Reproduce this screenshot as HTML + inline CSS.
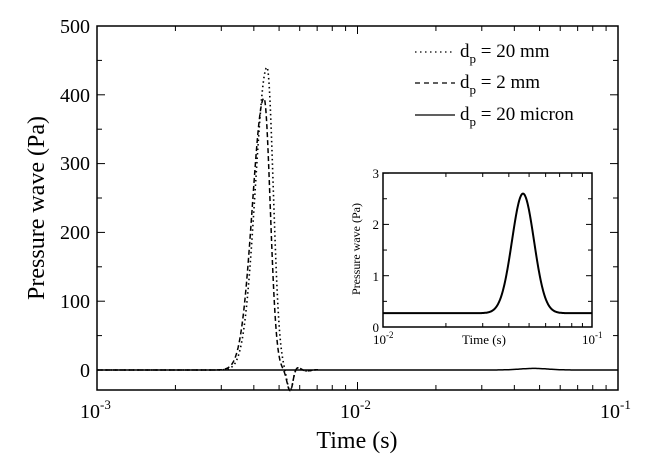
<!DOCTYPE html>
<html><head><meta charset="utf-8"><style>
html,body{margin:0;padding:0;background:#fff;}
svg{display:block;font-family:"Liberation Serif",serif;}
</style></head><body>
<svg id="s" width="648" height="470" viewBox="0 0 648 470">
<g fill="none" stroke="#000" stroke-width="1.5">
<rect x="97" y="26" width="521" height="364"/>
<rect x="383" y="173" width="209" height="154"/>
</g>
<g id="ticks" stroke="#000" stroke-width="1"></g>
<g id="curves" fill="none" stroke="#000"></g>
<g font-size="20" text-anchor="end">
<text x="90" y="33">500</text><text x="90" y="102">400</text><text x="90" y="170">300</text>
<text x="90" y="239">200</text><text x="90" y="308">100</text><text x="90" y="377">0</text>
</g>
<g font-size="20">
<text x="80" y="418">10<tspan font-size="13" dy="-9">-3</tspan></text>
<text x="340" y="418">10<tspan font-size="13" dy="-9">-2</tspan></text>
<text x="600" y="418">10<tspan font-size="13" dy="-9">-1</tspan></text>
</g>
<text x="357" y="448" font-size="24" text-anchor="middle">Time (s)</text>
<text transform="translate(44,208) rotate(-90)" font-size="24" text-anchor="middle">Pressure wave (Pa)</text>
<g font-size="13" text-anchor="end">
<text x="379" y="178">3</text><text x="379" y="229">2</text><text x="379" y="281">1</text><text x="379" y="332">0</text>
</g>
<g font-size="13">
<text x="373" y="344">10<tspan font-size="9" dy="-6">-2</tspan></text>
<text x="582" y="344">10<tspan font-size="9" dy="-6">-1</tspan></text>
<text x="462" y="344">Time (s)</text>
</g>
<text transform="translate(360,249) rotate(-90)" font-size="12" text-anchor="middle">Pressure wave (Pa)</text>
<g stroke="#000" stroke-width="1.3">
<line x1="415" y1="52" x2="455" y2="52" stroke-dasharray="1.5,3.5"/>
<line x1="415" y1="83" x2="455" y2="83" stroke-dasharray="5,4"/>
<line x1="415" y1="115" x2="455" y2="115"/>
</g>
<g font-size="19">
<text x="460" y="57">d<tspan font-size="13" dy="6">p</tspan><tspan dy="-6"> = 20 mm</tspan></text>
<text x="460" y="88">d<tspan font-size="13" dy="6">p</tspan><tspan dy="-6"> = 2 mm</tspan></text>
<text x="460" y="120">d<tspan font-size="13" dy="6">p</tspan><tspan dy="-6"> = 20 micron</tspan></text>
</g>
</svg>
<script>
var NS="http://www.w3.org/2000/svg";
function ln(g,x1,y1,x2,y2){var l=document.createElementNS(NS,"line");l.setAttribute("x1",x1);l.setAttribute("y1",y1);l.setAttribute("x2",x2);l.setAttribute("y2",y2);g.appendChild(l);}
var T=document.getElementById("ticks");
for(var d=0;d<2;d++)for(var k=1;k<=10;k++){var x=97+260.5*(d+Math.log10(k));var L=(k==1||k==10)?8:5;ln(T,x,390,x,390-L);ln(T,x,26,x,26+L);}
for(var v=0;v<=500;v+=50){var y=370-v*0.688;var L=(v%100==0)?8:5;ln(T,97,y,97+L,y);ln(T,618,y,618-L,y);}
for(var k=1;k<=10;k++){var x=383+209*Math.log10(k);var L=(k==1||k==10)?6:4;ln(T,x,327,x,327-L);ln(T,x,173,x,173+L);}
for(var v=0;v<=3;v+=0.5){var y=327-v*51.3;var L=(v%1==0)?6:4;ln(T,383,y,383+L,y);ln(T,592,y,592-L,y);}
var C=document.getElementById("curves");
function path(d,w,da){var p=document.createElementNS(NS,"path");p.setAttribute("d",d);p.setAttribute("stroke-width",w);if(da)p.setAttribute("stroke-dasharray",da);C.appendChild(p);}
function main(A,xc,xe){var d="";for(var x=97;x<=xe;x+=0.5){var s=x<xc?11.6:6.2;var v=A*Math.exp(-Math.pow((x-xc)/s,2)/2);
 v+=-30*Math.exp(-Math.pow((x-290)/3,2)/2);
 if(x>292){v+=8*Math.sin((x-292)/3.5)*Math.exp(-(x-292)/9);}
 var y=370-v*0.688;d+=(d?"L":"M")+x.toFixed(1)+","+y.toFixed(1);}return d;}
path(main(440,267,318),1.6,"1.5,3");
path(main(395,264,318),1.5,"5,3");
var d="";for(var x=97;x<=618;x+=1){var v=2.3*Math.exp(-Math.pow((x-534)/14,2)/2);d+=(d?"L":"M")+x+","+(370-v*0.688).toFixed(1);}path(d,1.5);
d="";for(var x=383;x<=592;x+=0.5){var v=0.27+2.33*Math.exp(-Math.pow((x-523)/11,2)/2);d+=(d?"L":"M")+x+","+(327-v*51.3).toFixed(1);}path(d,2);
</script>
</body></html>
